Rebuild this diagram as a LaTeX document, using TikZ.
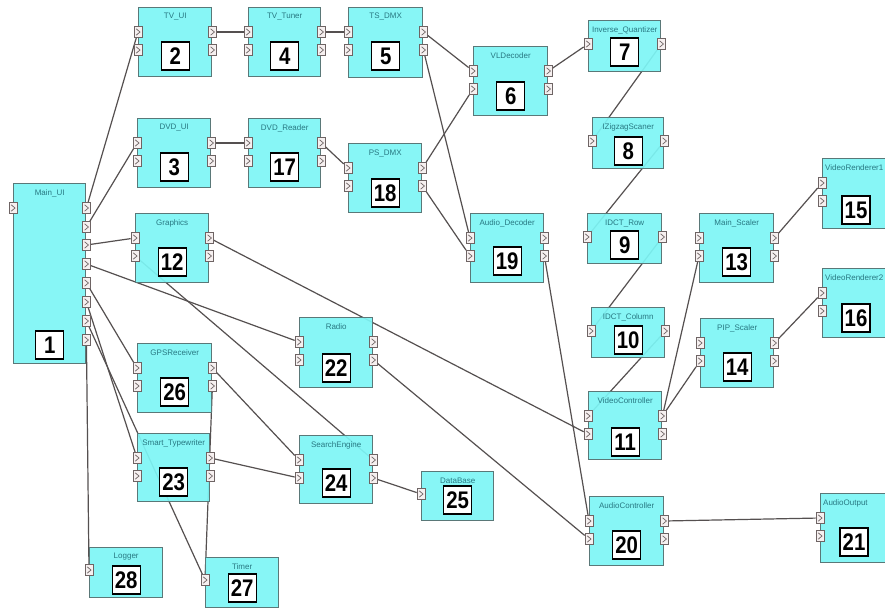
\documentclass[tikz,border=0pt]{standalone}
\usepackage{fontspec}
\setmainfont{Liberation Sans}
\usetikzlibrary{calc}
\pgfdeclarelayer{background}
\pgfsetlayers{background,main}
\definecolor{boxfill}{RGB}{125,246,246}
\definecolor{boxdraw}{RGB}{90,120,120}
\definecolor{lblcol}{RGB}{40,120,130}
\definecolor{wirecol}{RGB}{85,80,80}
\definecolor{portfill}{RGB}{246,240,240}
\definecolor{portdraw}{RGB}{110,100,100}
\tikzset{
  modbox/.style={draw=boxdraw, line width=1.4pt, fill=boxfill, fill opacity=0.92, inner sep=0pt},
  lbl/.style={text=lblcol, font=\fontsize{8}{8.5}\selectfont, inner sep=0pt},
  numbox/.style={draw=black, line width=1.3pt, fill=white, minimum width=28pt, minimum height=28pt, inner sep=0pt, font=\fontsize{24}{24}\selectfont\bfseries},
  port/.style={draw=portdraw, line width=0.7pt, fill=portfill, minimum width=8pt, minimum height=11pt, inner sep=0pt},
  chev/.style={draw=portdraw, line width=0.7pt},
  wire/.style={draw=wirecol, line width=1.2pt},
}
% id, x, y, w, h, label, number offset
\newcommand{\mkbox}[7]{%
  \node[modbox, minimum width=#4pt, minimum height=#5pt, anchor=north west] (b#1) at (#2,#3) {};
  \node[lbl] (t#1) at ([yshift=-10pt]b#1.north) {#6};
  \node[numbox] (n#1) at ([yshift=-#7pt]b#1.north) {\scalebox{0.85}[1]{#1}};
}
% boxes cut by the right edge: label and number placed from the left edge
\newcommand{\mkboxr}[7]{%
  \node[modbox, minimum width=#4pt, minimum height=#5pt, anchor=north west] (b#1) at (#2,#3) {};
  \node[lbl, anchor=west] (t#1) at ([xshift=3pt,yshift=-10pt]b#1.north west) {#6};
  \node[numbox] (n#1) at ([xshift=34pt,yshift=-#7pt]b#1.north west) {\scalebox{0.85}[1]{#1}};
}
% left port: id, index, offset from top
\newcommand{\mkl}[3]{%
  \node[port] (p#1l#2) at ([yshift=-#3pt]b#1.north west) {};
  \draw[chev] ([xshift=-1.8pt,yshift=3.2pt]p#1l#2.center) -- ([xshift=2pt]p#1l#2.center) -- ([xshift=-1.8pt,yshift=-3.2pt]p#1l#2.center);
}
\newcommand{\mkr}[3]{%
  \node[port] (p#1r#2) at ([yshift=-#3pt]b#1.north east) {};
  \draw[chev] ([xshift=-1.8pt,yshift=3.2pt]p#1r#2.center) -- ([xshift=2pt]p#1r#2.center) -- ([xshift=-1.8pt,yshift=-3.2pt]p#1r#2.center);
}
\newcommand{\stdports}[1]{\mkl{#1}{1}{25}\mkl{#1}{2}{43}\mkr{#1}{1}{25}\mkr{#1}{2}{43}}
\newcommand{\inports}[1]{\mkl{#1}{1}{25}\mkl{#1}{2}{43}}
\newcommand{\oneports}[1]{\mkl{#1}{1}{24}\mkr{#1}{1}{24}}
\begin{document}
\begin{tikzpicture}[x=1pt,y=-1pt]
\useasboundingbox (0,0) rectangle (885,608);
% modules
\mkbox{1}{13}{183}{72}{180}{Main\_UI}{162}
\mkbox{2}{138}{7}{73}{69}{TV\_UI}{49}
\mkbox{4}{248}{7}{72}{69}{TV\_Tuner}{49}
\mkbox{5}{348}{7}{74}{70}{TS\_DMX}{49}
\mkbox{6}{473}{46}{74}{69}{VLDecoder}{50}
\mkbox{7}{588}{20}{72}{51}{Inverse\_Quantizer}{32}
\mkbox{8}{592}{117}{71}{51}{IZigzagScaner}{34}
\mkbox{3}{137}{118}{73}{69}{DVD\_UI}{49}
\mkbox{17}{248}{118}{72}{69}{DVD\_Reader}{49}
\mkbox{18}{348}{143}{73}{69}{PS\_DMX}{50}
\mkbox{12}{135}{213}{73}{69}{Graphics}{49}
\mkbox{19}{470}{213}{73}{69}{Audio\_Decoder}{48}
\mkbox{9}{587}{213}{74}{50}{IDCT\_Row}{32}
\mkbox{13}{699}{213}{74}{69}{Main\_Scaler}{49}
\mkboxr{15}{822}{158}{75}{70}{VideoRenderer1}{52}
\mkboxr{16}{822}{268}{75}{69}{VideoRenderer2}{50}
\mkbox{10}{591}{307}{73}{50}{IDCT\_Column}{33}
\mkbox{14}{700}{318}{73}{69}{PIP\_Scaler}{49}
\mkbox{22}{299}{317}{73}{70}{Radio}{51}
\mkbox{26}{137}{343}{74}{69}{GPSReceiver}{49}
\mkbox{11}{588}{391}{73}{68}{VideoController}{51}
\mkbox{23}{137}{433}{72}{68}{Smart\_Typewriter}{49}
\mkbox{24}{299}{435}{73}{68}{SearchEngine}{48}
\mkbox{25}{421}{471}{72}{49}{DataBase}{29}
\mkbox{20}{589}{496}{74}{69}{AudioController}{49}
\mkboxr{21}{820}{493}{75}{69}{AudioOutput}{49}
\mkbox{28}{89}{547}{73}{50}{Logger}{33}
\mkbox{27}{205}{557}{73}{50}{Timer}{31}
% ports
\mkl{1}{1}{25}
\mkr{1}{1}{25}\mkr{1}{2}{44}\mkr{1}{3}{62}\mkr{1}{4}{81}
\mkr{1}{5}{100}\mkr{1}{6}{119}\mkr{1}{7}{138}\mkr{1}{8}{157}
\stdports{2}\stdports{3}\stdports{4}\stdports{5}\stdports{6}
\stdports{17}\stdports{18}\stdports{12}\stdports{19}\stdports{13}
\stdports{14}\stdports{22}\stdports{26}\stdports{11}\stdports{23}
\stdports{24}\stdports{20}
\inports{15}\inports{16}\inports{21}
\oneports{7}\oneports{8}\oneports{9}\oneports{10}
\mkl{25}{1}{23}\mkl{28}{1}{23}\mkl{27}{1}{23}
% connectors
\begin{pgfonlayer}{background}
\fill[white] (0,0) rectangle (885,608);
\draw[wire] (p1r1) -- (p2l1);
\draw[wire] (p1r2) -- (p3l1);
\draw[wire] (p1r3) -- (p12l1);
\draw[wire] (p1r4) -- (p22l1);
\draw[wire] (p1r5) -- (p26l1);
\draw[wire] (p1r6) -- (p23l1);
\draw[wire] (p1r7) -- (p27l1);
\draw[wire] (p1r8) -- (p28l1);
\draw[wire] (p2r1) -- (p4l1);
\draw[wire] (p4r1) -- (p5l1);
\draw[wire] (p3r1) -- (p17l1);
\draw[wire] (p17r1) -- (p18l1);
\draw[wire] (p5r1) -- (p6l1);
\draw[wire] (p5r2) -- (p19l1);
\draw[wire] (p18r1) -- (p6l2);
\draw[wire] (p18r2) -- (p19l2);
\draw[wire] (p6r1) -- (p7l1);
\draw[wire] (p7r1) -- (p8l1);
\draw[wire] (p8r1) -- (p9l1);
\draw[wire] (p9r1) -- (p10l1);
\draw[wire] (p10r1) -- (p11l1);
\draw[wire] (p11r1) -- (p13l2);
\draw[wire] (p11r1) -- (p14l2);
\draw[wire] (p13r1) -- (p15l1);
\draw[wire] (p14r1) -- (p16l1);
\draw[wire] (p12r1) -- (p11l2);
\draw[wire] (p12l2) -- (p24r1);
\draw[wire] (p19r2) -- (p20l1);
\draw[wire] (p22r2) -- (p20l2);
\draw[wire] (p20r1) -- (p21l1);
\draw[wire] (p26r1) -- (p24l1);
\draw[wire] (p23r1) -- (p24l2);
\draw[wire] (p26r2) -- (p27l1);
\draw[wire] (p24r2) -- (p25l1);
\end{pgfonlayer}
\end{tikzpicture}
\end{document}
